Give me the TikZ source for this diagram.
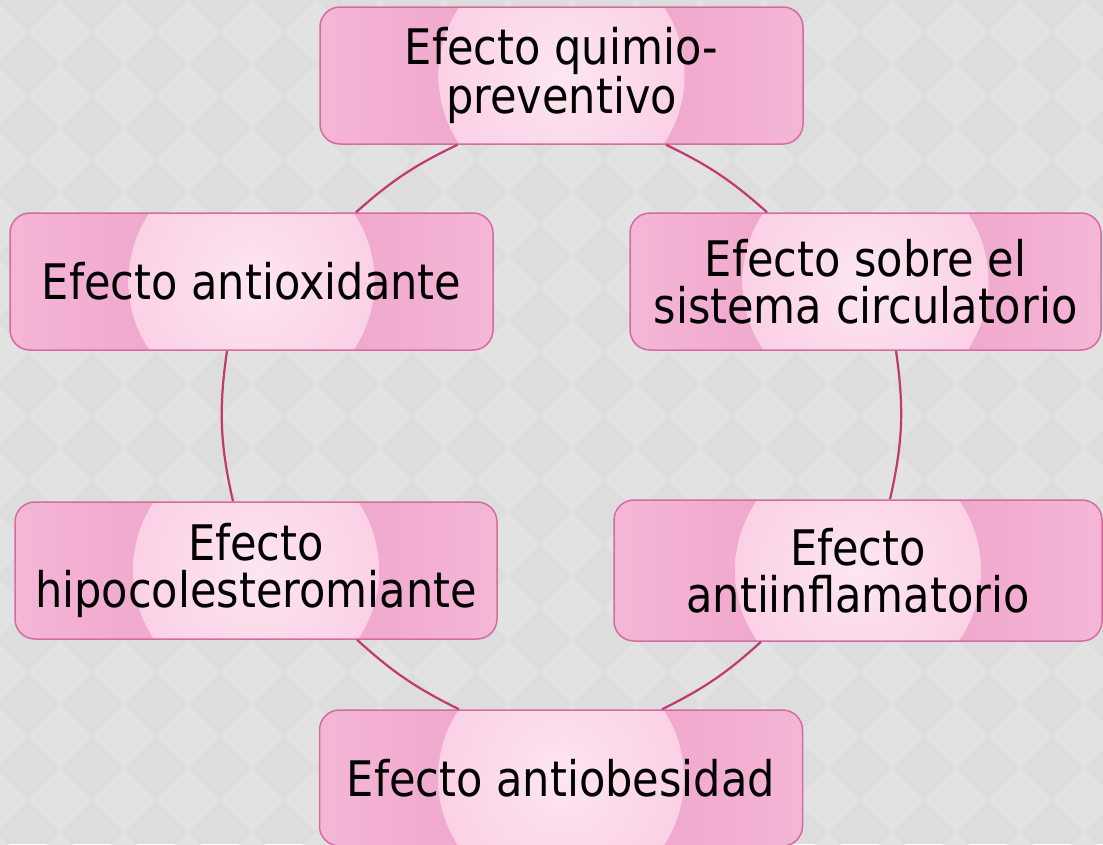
\documentclass[tikz,border=0pt]{standalone}
\usepackage{fontspec}
\setmainfont{DejaVu Sans}[FakeStretch=0.88]
\usetikzlibrary{calc}
\definecolor{bgA}{HTML}{DDDDDD}
\definecolor{bgB}{HTML}{E2E2E2}
\definecolor{sideL}{HTML}{F5B6D6}
\definecolor{sideM}{HTML}{EC9FC6}
\definecolor{glowin}{HTML}{FDE6F1}
\definecolor{glowout}{HTML}{F8BBDA}
\definecolor{boxborder}{HTML}{D46CA2}
\definecolor{linkcol}{HTML}{C03A6E}
\pgfdeclareradialshading{glow}{\pgfpoint{0bp}{0bp}}{color(0bp)=(glowin); color(50bp)=(glowout)}
\tikzset{
  stagebox/.style={draw=boxborder, line width=1.5pt, rounded corners=20pt,
    minimum width=483pt, minimum height=137pt, inner sep=0pt, align=center,
    font=\fontsize{49}{47}\selectfont, text=black,
    path picture={
      \shade[left color=sideL, right color=sideL, middle color=sideM]
        (path picture bounding box.south west) rectangle (path picture bounding box.north east);
      \shade[shading=glow] (path picture bounding box.center) circle (123pt);
    }},
  link/.style={draw=linkcol, line width=2.2pt}
}
\begin{document}
\begin{tikzpicture}[x=1pt,y=-1pt]
\useasboundingbox (0,0) rectangle (1103,844);
\fill[bgA] (0,0) rectangle (1103,844);
\begin{scope}
\clip (0,0) rectangle (1103,844);
\foreach \i in {-1,...,17}{
  \foreach \j in {-1,...,13}{
    \fill[bgB] ({60+64*\i-32},{32+64*\j}) -- ({60+64*\i},{32+64*\j-32}) -- ({60+64*\i+32},{32+64*\j}) -- ({60+64*\i},{32+64*\j+32}) -- cycle;
  }
}
\end{scope}

\node[stagebox] (top) at (561.5,75.5) {Efecto quimio-\\preventivo};
\node[stagebox] (lu) at (251.5,281.5) {Efecto antioxidante};
\node[stagebox, minimum width=471pt] (ru) at (865.5,281.5) {Efecto sobre el\\sistema circulatorio};
\node[stagebox, minimum width=482pt] (ll) at (256,570.5) {Efecto\\hipocolesteromiante};
\node[stagebox, minimum width=488pt, minimum height=141pt] (lr) at (858,570.5) {Efecto\\antiinflamatorio};
\node[stagebox, minimum height=136pt] (bot) at (561,778) {Efecto antiobesidad};

\draw[link] ($(top.south)+(-104,0)$) to[bend right=8] ($(lu.north)+(104.5,0)$);
\draw[link] ($(lu.south)+(-24.5,0)$) to[bend right=10.5] ($(ll.north)+(-23,0)$);
\draw[link] ($(ll.south)+(101,0)$) to[bend right=8] ($(bot.north)+(-102,0)$);
\draw[link] ($(bot.north)+(101,0)$) to[bend right=8] ($(lr.south)+(-97,0)$);
\draw[link] ($(lr.north)+(32,0)$) to[bend right=10.5] ($(ru.south)+(30.5,0)$);
\draw[link] ($(ru.north)+(-98.5,0)$) to[bend right=8] ($(top.south)+(104.5,0)$);
\end{tikzpicture}
\end{document}
